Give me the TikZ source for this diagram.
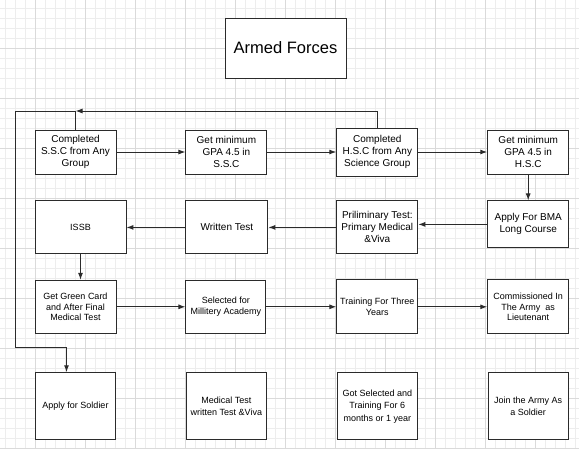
\documentclass[tikz,border=0pt]{standalone}
\usepackage{fontspec}
\setmainfont{Liberation Sans}
\usepackage{tikz}
\usetikzlibrary{positioning, arrows.meta}
\definecolor{edge}{HTML}{2B2B2B}
\definecolor{gridlo}{HTML}{EDEDED}
\definecolor{gridhi}{HTML}{DADADA}

\begin{document}
\begin{tikzpicture}[x=1pt,y=-1pt,>={Latex[length=7pt,width=5pt]},
  stage/.style={draw=edge,line width=0.9pt,fill=white,align=center,inner sep=1pt,
                minimum width=81pt,minimum height=44pt,
                font=\fontsize{10}{12}\selectfont},
  small/.style={font=\fontsize{9}{10.5}\selectfont},
  bottom/.style={stage,minimum width=80pt,minimum height=67pt,
                 font=\fontsize{9}{12.5}\selectfont},
  link/.style={->,draw=edge,line width=1pt}]
  \useasboundingbox (0,0) rectangle (579,448);
  % paper grid
  \fill[white] (0,0) rectangle (579,448);
  \foreach \gx in {5,15,...,575} \draw[gridlo,line width=1pt] (\gx,0) -- (\gx,448);
  \foreach \gy in {8,18,...,448} \draw[gridlo,line width=1pt] (0,\gy) -- (579,\gy);
  \foreach \gx in {35,85,...,535} \draw[gridhi,line width=1pt] (\gx,0) -- (\gx,448);
  \foreach \gy in {48,98,...,448} \draw[gridhi,line width=1pt] (0,\gy) -- (579,\gy);

  \node[stage,minimum width=121pt,minimum height=60pt,
        font=\fontsize{16.5}{20}\selectfont] (title) at (285.5,48) {Armed Forces};

  % first row
  \node[stage] (ssc) at (75.5,152) {Completed\\S.S.C from Any\\Group};
  \node[stage, right=69pt of ssc] (gpassc) {Get minimum\\GPA 4.5 in\\S.S.C};
  \node[stage, minimum height=48pt, right=69pt of gpassc] (hsc) {Completed\\H.S.C from Any\\Science Group};
  \node[stage, right=69pt of hsc] (gpahsc) {Get minimum\\GPA 4.5 in\\H.S.C};

  % second row
  \node[stage, minimum height=47pt, below=26pt of gpahsc] (bma) {Apply For BMA\\Long Course};
  \node[stage, minimum height=53pt, below=24pt of hsc] (prelim) {Priliminary Test:\\Primary Medical\\\&Viva};
  \node[stage, minimum width=82pt, minimum height=53pt, left=68pt of prelim] (written) {Written Test};
  \node[stage, small, minimum width=91pt, minimum height=53pt, left=59pt of written] (issb) {ISSB};

  % third row
  \node[stage, small, minimum height=54pt, below=25pt of prelim] (training) {Training For Three\\Years};
  \node[stage, small, minimum height=54pt, right=69pt of training] (commis) {Commissioned In\\The Army\ \ as\\Lieutenant};
  \node[stage, small, minimum width=80pt, minimum height=53pt, left=70pt of training] (selected) {Selected for\\Millitery Academy};
  \node[stage, small, minimum height=53pt, left=69pt of selected] (green) {Get Green Card\\and After Final\\Medical Test};

  % soldier row
  \node[bottom, below=38pt of training] (gotsel) {Got Selected and\\Training For 6\\months or 1 year};
  \node[bottom, right=70pt of gotsel] (join) {Join the Army As\\a Soldier};
  \node[bottom, left=70pt of gotsel] (medical) {Medical Test\\written Test \&Viva};
  \node[bottom, left=70pt of medical] (soldier) {Apply for Soldier};

  \draw[link] (ssc) -- (gpassc);
  \draw[link] (gpassc) -- (hsc);
  \draw[link] (hsc) -- (gpahsc);
  \draw[link] (gpahsc) -- (bma);
  \draw[link] (bma.west) -- (bma.west -| prelim.east);
  \draw[link] (prelim) -- (written);
  \draw[link] (written) -- (issb);
  \draw[link] (issb.south) -- (issb.south |- green.north);
  \draw[link] (green) -- (selected);
  \draw[link] (selected) -- (training);
  \draw[link] (training) -- (commis);

  % loop back to the soldier path
  \coordinate (topL) at (15,111);
  \coordinate (botL) at (15,347);
  \draw[link] (hsc.north) |- (ssc.north |- topL);
  \draw[link] (ssc.north) |- (topL) -- (botL) -| ([xshift=-9pt]soldier.north);
\end{tikzpicture}
\end{document}
